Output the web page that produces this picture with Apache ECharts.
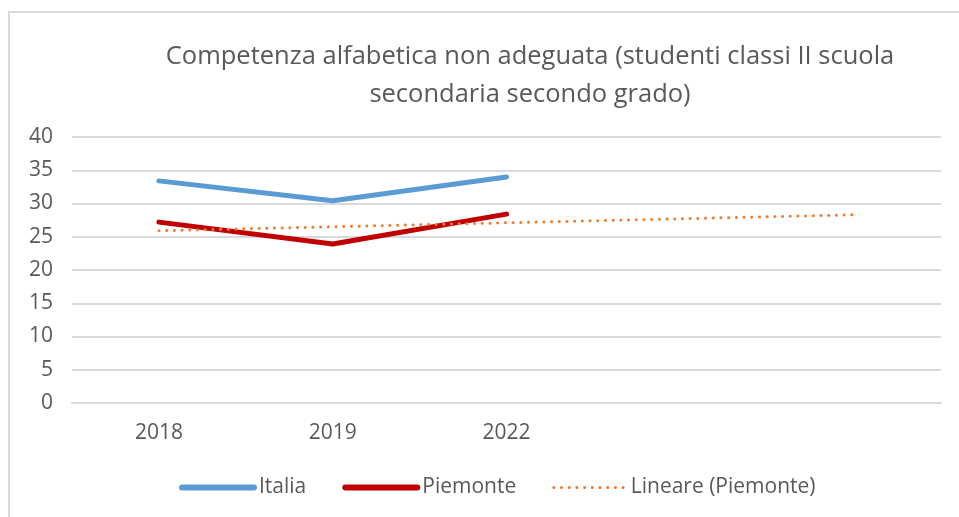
<!DOCTYPE html>
<html>
<head>
<meta charset="utf-8">
<script src="https://cdn.jsdelivr.net/npm/echarts@6/dist/echarts.min.js"></script>
<style>
  html, body { margin: 0; padding: 0; background: #fff; }
  #chart { width: 959px; height: 517px; }
</style>
</head>
<body>
<div id="chart"></div>
<script>
// categorie (le ultime due vuote: prolungamento della linea di tendenza)
const anni = ['2018', '2019', '2022', '', ''];
const italia = [33.4, 30.4, 34.0];
const piemonte = [27.2, 23.9, 28.4];
// linea di tendenza lineare (Piemonte)
const lineare = [25.9, 26.5, 27.1, 27.7, 28.3];
const yTicks = [0, 5, 10, 15, 20, 25, 30, 35, 40];

const font = "'Open Sans', sans-serif";
const grigio = '#595959';

const chart = echarts.init(document.getElementById('chart'));
chart.setOption({
  animation: false,
  textStyle: { fontFamily: font },
  graphic: [{
    type: 'rect',
    shape: { x: 9, y: 12, width: 1000, height: 1000 },
    style: { fill: 'none', stroke: '#d9d9d9', lineWidth: 2 }
  }],
  title: {
    text: 'Competenza alfabetica non adeguata (studenti classi II scuola\nsecondaria secondo grado)',
    left: 525,
    top: 33,
    textAlign: 'center',
    textStyle: { fontFamily: font, fontSize: 25.5, fontWeight: 'normal', color: grigio, lineHeight: 38 }
  },
  grid: { left: 72, right: 18, top: 137, bottom: 114 },
  legend: {
    bottom: 14,
    left: 174,
    itemWidth: 72,
    itemHeight: 14,
    itemGap: 36,
    textStyle: { fontFamily: font, fontSize: 21, color: grigio, padding: [0, 0, 0, 0] },
    itemStyle: { opacity: 0 },
    data: [
      { name: 'Italia', lineStyle: { width: 6, cap: 'round' } },
      { name: 'Piemonte', lineStyle: { width: 6, cap: 'round' } },
      { name: 'Lineare (Piemonte)', lineStyle: { width: 3 } }
    ]
  },
  xAxis: {
    type: 'category',
    data: anni,
    axisLine: { show: true, lineStyle: { color: '#d9d9d9', width: 2 } },
    axisTick: { show: false },
    axisLabel: { color: grigio, fontSize: 21, margin: 20, fontFamily: font }
  },
  yAxis: {
    type: 'value',
    min: yTicks[0],
    max: yTicks[yTicks.length - 1],
    interval: 5,
    axisLine: { show: false },
    axisTick: { show: false },
    splitLine: { lineStyle: { color: '#d9d9d9', width: 2 } },
    axisLabel: { color: grigio, fontSize: 21, margin: 19, fontFamily: font }
  },
  series: [
    {
      name: 'Italia',
      type: 'line',
      data: italia,
      symbol: 'none',
      lineStyle: { color: '#5B9BD5', width: 5, cap: 'round', join: 'round' },
      itemStyle: { color: '#5B9BD5' }
    },
    {
      name: 'Piemonte',
      type: 'line',
      data: piemonte,
      symbol: 'none',
      lineStyle: { color: '#C00000', width: 5, cap: 'round', join: 'round' },
      itemStyle: { color: '#C00000' }
    },
    {
      name: 'Lineare (Piemonte)',
      type: 'line',
      data: lineare,
      symbol: 'none',
      lineStyle: { color: '#ED7D31', width: 3, type: [0.1, 7.6], cap: 'round' },
      itemStyle: { color: '#ED7D31' }
    }
  ]
});
</script>
</body>
</html>
